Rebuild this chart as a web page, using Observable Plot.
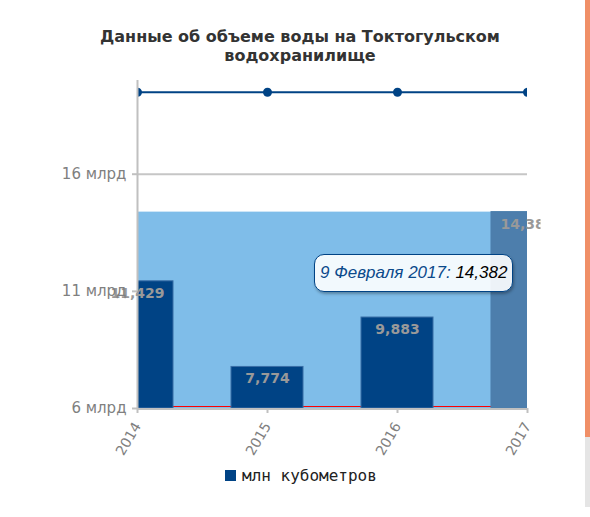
<!DOCTYPE html>
<html>
<head>
<meta charset="utf-8">
<script src="https://cdn.jsdelivr.net/npm/d3@7"></script>
<script src="https://cdn.jsdelivr.net/npm/@observablehq/plot@0.6"></script>
<style>
  html, body { margin: 0; padding: 0; background: #fff; overflow: hidden; }
  #wrap { position: relative; width: 590px; height: 517px; overflow: hidden; font-family: "DejaVu Sans", sans-serif; }
  #title { position: absolute; left: 10px; top: 27px; width: 580px; text-align: center; font-weight: bold; font-size: 16px; line-height: 19px; color: #333; }
  #chart { position: absolute; left: 0; top: 70px; }
  #tip { position: absolute; box-sizing: border-box; height: 38px; padding: 0 5px; border: 1.5px solid #004385; border-radius: 10px;
         background: rgba(255,255,255,0.9); box-shadow: 1px 2px 3px rgba(0,0,0,0.3);
         font-family: "Liberation Sans", Arial, sans-serif; font-style: italic; font-size: 17px; line-height: 35px; white-space: nowrap; color: #0b4a8b; }
  #tip b { font-weight: normal; color: #000; }
  #legend { position: absolute; left: 225px; top: 466px; display: flex; align-items: center; font-family: "DejaVu Sans Mono", monospace; font-size: 16px; color: #222; }
  #legend span.sw { display: inline-block; width: 11px; height: 11px; background: #004385; margin-right: 6px; }
  #sb1 { position: absolute; left: 585px; top: 0; width: 5px; height: 437px; background: #f08f67; }
  #sb2 { position: absolute; left: 585px; top: 437px; width: 5px; height: 70px; background: #e5e5e5; }
</style>
</head>
<body>
<div id="wrap">
  <div id="title">Данные об объеме воды на Токтогульском<br>водохранилище</div>
  <div id="chart"></div>
  <div id="tip"></div>
  <div id="legend"><span class="sw"></span><span id="legtext"></span></div>
  <div id="sb1"></div><div id="sb2"></div>
</div>
<script>
// ---- data ----
const years = [2014, 2015, 2016, 2017];
const volumes = [11429, 7774, 9883, 14382];          // млн кубометров
const capacity = [19500, 19500, 19500, 19500];       // upper line
const yTicks = [6000, 11000, 16000];
const tooltipDate = "9 Февраля 2017";
const seriesName = "млн кубометров";

const bars = years.map((y, i) => ({year: y, value: volumes[i]}));
const line = years.map((y, i) => ({year: y, value: capacity[i]}));
const last = bars[bars.length - 1];
const band = [{x1: years[0], x2: years[years.length - 1], y1: 6000, y2: last.value}];

const fmt = d3.format(",");
const half = 0.277;

const plot = Plot.plot({
  width: 590,
  height: 390,
  marginTop: 10,
  marginBottom: 52,
  marginLeft: 137,
  marginRight: 63,
  style: {fontFamily: "DejaVu Sans", background: "transparent", overflow: "visible"},
  x: {domain: [years[0], years[years.length - 1]]},
  y: {domain: [6000, 20000]},
  marks: [
    Plot.ruleY([16000], {stroke: "#c6c6c6", strokeWidth: 2}),
    Plot.rect(band, {x1: "x1", x2: "x2", y1: "y1", y2: "y2", fill: "#7fbde9"}),
    Plot.ruleY([6000], {stroke: "#ff0000", strokeWidth: 1, dy: -2}),
    Plot.rect(bars, {
      x1: d => d.year - half, x2: d => d.year + half, y1: 6000, y2: "value",
      fill: d => d.year === last.year ? "#4d7eac" : "#004385",
      stroke: d => d.year === last.year ? "#4d7eac" : "#3a6ea6", strokeWidth: 1, clip: true
    }),
    Plot.line(line, {x: "year", y: "value", stroke: "#004385", strokeWidth: 2, clip: true}),
    Plot.dot(line, {x: "year", y: "value", fill: "#004385", r: 4.5, clip: true}),
    Plot.ruleX([years[0]], {stroke: "#c0c0c0", strokeWidth: 2, y1: 6000, y2: 20000}),
    Plot.ruleY([6000], {stroke: "#c0c0c0", strokeWidth: 2, dy: 0.5}),
    Plot.text(bars, {x: "year", y: "value", text: d => fmt(d.value), dy: 12, fill: "#999", fontWeight: "bold", fontSize: 14}),
    Plot.axisY({ticks: yTicks, tickFormat: d => `${d / 1000} млрд`, tickSize: 5, tickPadding: 6, fontSize: 15, stroke: "#c0c0c0", strokeWidth: 2, fill: "#808080", label: null}),
    Plot.axisX({ticks: years, tickFormat: d => String(d), tickRotate: -60, tickSize: 5, tickPadding: 10, fontSize: 14, stroke: "#c0c0c0", strokeWidth: 2, fill: "#808080", label: null})
  ]
});
document.getElementById("chart").appendChild(plot);

// clip bar value labels at the container edge
const svg = d3.select(plot);
const defs = svg.append("defs");
defs.append("clipPath").attr("id", "lblclip").append("rect").attr("x", 0).attr("y", 0).attr("width", 540).attr("height", 390);
svg.selectAll("g[aria-label='text']").attr("clip-path", "url(#lblclip)");

// tooltip anchored at the last bar
const sx = plot.scale("x"), sy = plot.scale("y");
const px = sx.apply(last.year), py = sy.apply(last.value) + 70;
const tip = document.getElementById("tip");
tip.innerHTML = `${tooltipDate}: <b>${fmt(last.value)}</b>`;
const w = tip.offsetWidth;
tip.style.left = (px - 14 - w) + "px";
tip.style.top = (py + 42) + "px";

document.getElementById("legtext").textContent = seriesName;
</script>
</body>
</html>
